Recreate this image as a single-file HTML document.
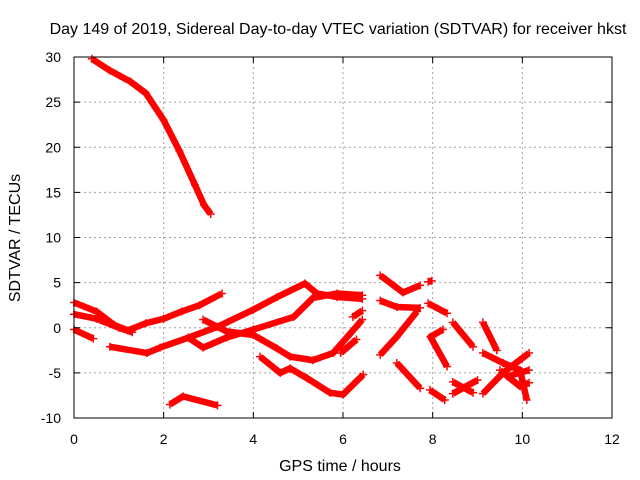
<!DOCTYPE html>
<html><head><meta charset="utf-8"><style>
body{margin:0;background:#fff}
svg{display:block;font-family:"Liberation Sans",sans-serif}
</style></head><body>
<svg id="chart" width="640" height="480" viewBox="0 0 640 480">
<text x="338" y="34" font-size="16" text-anchor="middle">Day 149 of 2019, Sidereal Day-to-day VTEC variation (SDTVAR) for receiver hkst</text>
<g id="grid"></g>
<g id="series"></g>
<rect x="74" y="57" width="538" height="361" fill="none" stroke="#000" stroke-width="1"/>
<g id="axes"></g>
<text x="340" y="471" font-size="16" text-anchor="middle">GPS time / hours</text>
<text x="20" y="238" font-size="16" text-anchor="middle" transform="rotate(-90 20 238)">SDTVAR / TECUs</text>
</svg>
<script>
const xTicks=[0,2,4,6,8,10,12];
const yTicks=[-10,-5,0,5,10,15,20,25,30];
const trackA=[[0.4,29.8],[0.8,28.5],[1.25,27.3],[1.6,26],[2.0,23],[2.35,19.6],[2.7,15.8],[2.9,13.6],[3.05,12.6]];
const trackB=[[0,2.8],[0.5,1.8],[0.9,0.3],[1.2,-0.3],[1.6,0.5],[2.0,1.0],[2.4,1.8],[2.8,2.5],[3.3,3.8]];
const trackB2=[[0,1.5],[0.5,1.0],[1.0,0.0],[1.3,-0.5]];
const trackC=[[0,-0.2],[0.43,-1.2]];
const trackD=[[0.8,-2.1],[1.63,-2.8],[1.92,-2.2],[2.55,-1.1],[3.2,0.1],[4.0,2.0],[4.53,3.4],[5.15,4.9],[5.42,3.8],[5.87,3.4],[6.43,3.2]];
const trackE=[[2.55,-1.1],[2.88,-2.2],[3.4,-1.1],[4.0,-0.2],[4.9,1.2],[5.33,3.3],[5.87,3.8],[6.43,3.6]];
const trackF=[[2.88,0.9],[3.4,-0.4],[4.0,-0.8],[4.53,-2.3],[4.82,-3.2],[5.33,-3.6],[5.78,-2.8],[6.1,-1.0],[6.43,0.9]];
const trackG=[[6.22,1.2],[6.43,1.9]];
const trackG2=[[5.95,-2.8],[6.3,-1.3]];
const trackH=[[4.15,-3.2],[4.6,-5.0],[4.82,-4.5],[5.2,-5.6],[5.71,-7.2],[6.0,-7.4],[6.45,-5.2]];
const trackI=[[2.14,-8.5],[2.43,-7.6],[3.2,-8.6]];
const trackJ=[[6.83,5.8],[7.34,3.9],[7.72,4.7]];
const trackK=[[6.83,3.0],[7.2,2.3],[7.72,2.2]];
const trackL=[[6.83,-3.0],[7.2,-1.0],[7.65,1.8]];
const trackM=[[7.2,-3.9],[7.72,-6.7]];
const trackN=[[7.9,5.1],[7.98,5.2]];
const trackO=[[7.9,2.7],[8.32,1.6]];
const trackP=[[8.23,-0.2],[7.95,-1.0],[8.32,-4.3]];
const trackQ=[[7.94,-6.9],[8.27,-8.0]];
const trackR=[[8.45,0.6],[8.9,-2.1]];
const trackS1=[[8.45,-7.3],[9.0,-5.8]];
const trackS2=[[8.45,-6.0],[8.9,-7.2]];
const trackT=[[9.12,0.6],[9.43,-2.5]];
const trackU=[[9.12,-2.8],[9.57,-3.9],[9.95,-4.7],[10.1,-8.0]];
const trackV=[[9.12,-7.3],[9.57,-5.0],[10.15,-2.8]];
const trackW=[[9.66,-5.4],[10.15,-4.7]];
const trackX=[[9.5,-4.7],[9.95,-6.5],[10.15,-6.1]];
const tracks=[trackA,trackB,trackB2,trackC,trackD,trackE,trackF,trackG,trackG2,trackH,trackI,trackJ,trackK,trackL,trackM,trackN,trackO,trackP,trackQ,trackR,trackS1,trackS2,trackT,trackU,trackV,trackW,trackX];
const NS='http://www.w3.org/2000/svg';
const X0=74,X1=612,Y0=418,Y1=57;
function xs(t){return X0+(t-0)/(12-0)*(X1-X0);}
function ys(v){return Y0-(v+10)/(40)*(Y0-Y1);}
const grid=document.getElementById('grid'),axes=document.getElementById('axes'),ser=document.getElementById('series');
function mk(tag,at,parent){const e=document.createElementNS(NS,tag);for(const k in at)e.setAttribute(k,at[k]);parent.appendChild(e);return e;}
xTicks.forEach(t=>{
 const x=xs(t);
 if(t>0&&t<12){const g=mk('line',{x1:x,x2:x,y1:Y1,y2:Y0,stroke:'#a0a0a0','stroke-dasharray':'2,3'},grid);
 
 }
 const a=mk('line',{x1:x,x2:x,y1:Y0,y2:Y0-6,stroke:'#000'},axes);
 
 
 const b=mk('line',{x1:x,x2:x,y1:Y1,y2:Y1+6,stroke:'#000'},axes);
 
 
 const l=mk('text',{x:x,y:Y0+26,'font-size':14,'text-anchor':'middle'},axes);l.textContent=t;
 
 
});
yTicks.forEach(v=>{
 const y=ys(v);
 if(v>-10&&v<30){const g=mk('line',{x1:X0,x2:X1,y1:y,y2:y,stroke:'#a0a0a0','stroke-dasharray':'2,3'},grid);
 
 }
 const a=mk('line',{x1:X0,x2:X0+6,y1:y,y2:y,stroke:'#000'},axes);
 
 
 const b=mk('line',{x1:X1,x2:X1-6,y1:y,y2:y,stroke:'#000'},axes);
 
 
 const l=mk('text',{x:X0-13,y:y+5,'font-size':14,'text-anchor':'end'},axes);l.textContent=v;
 
 
});
tracks.forEach(tr=>{
 const p=mk('polyline',{points:tr.map(d=>xs(d[0])+','+ys(d[1])).join(' '),fill:'none',stroke:'#ff0000','stroke-width':6.5,'stroke-linejoin':'round'},ser);
 
 
 tr.forEach(d=>{
  const m=mk('path',{d:`M${xs(d[0])-4},${ys(d[1])}h8M${xs(d[0])},${ys(d[1])-4}v8`,stroke:'#ff0000','stroke-width':1.5},ser);
  
  
 });
});
</script>
</body></html>
